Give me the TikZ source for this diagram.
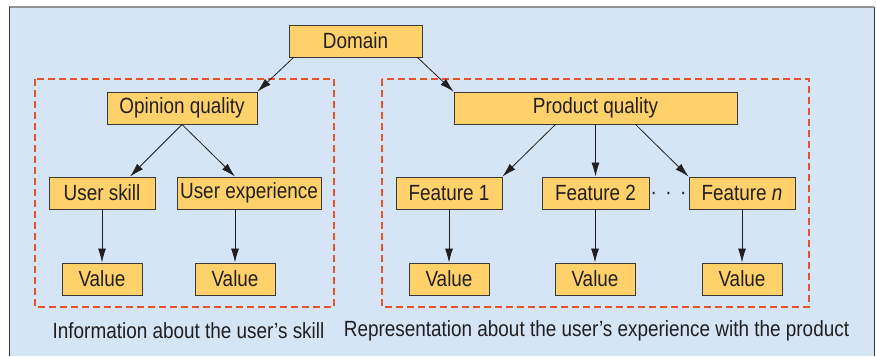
\documentclass[tikz,border=0pt]{standalone}
\usepackage{fontspec}
\setmainfont{Liberation Sans}[FakeStretch=0.86]
\usetikzlibrary{arrows.meta}

\definecolor{panelblue}{HTML}{D5E5F5}
\definecolor{boxfill}{HTML}{FFD16A}
\definecolor{boxline}{HTML}{3A3A3A}
\definecolor{dashred}{HTML}{E8532B}
\definecolor{inkdark}{HTML}{231F20}

\tikzset{
  box/.style={draw=boxline, fill=boxfill, line width=0.9pt, minimum height=32pt,
    inner sep=0pt, text=inkdark, font=\fontsize{22}{25}\selectfont},
  link/.style={draw=inkdark, line width=0.8pt, -{Latex[length=14pt,width=8pt]}},
  group/.style={draw=dashred, line width=2.8pt, dash pattern=on 7pt off 4pt},
  caption/.style={text=inkdark, font=\fontsize{22}{25}\selectfont}
}

\begin{document}
\begin{tikzpicture}[x=1pt,y=-1pt]

\useasboundingbox (0,0) rectangle (877,356);

% Panel
\fill[panelblue] (9,7) rectangle (874,356);
\draw[gray!85, line width=2.5pt] (9,7) -- (874,7);
\draw[boxline, line width=1pt] (9,7) -- (9,356);
\draw[boxline, line width=1pt] (874,7) -- (874,356);

% Dashed groups
\draw[group] (35,79) rectangle (334,307);
\draw[group] (382,79) rectangle (809,307);

% Top levels
\node[box, minimum width=133pt] (dom) at (355.5,41) {Domain};
\node[box, minimum width=150pt] (oq) at (182,108) {Opinion quality};
\node[box, minimum width=283pt] (pq) at (595.5,108) {Product quality};

% Second level
\node[box, minimum width=106pt] (us) at (102,193) {User skill};
\node[box, minimum width=144pt] (ux) at (249,193) {User experience};
\node[box, minimum width=106pt] (f1) at (449,193) {Feature 1};
\node[box, minimum width=107pt] (f2) at (595.5,193) {Feature 2};
\node[box, minimum width=106pt] (fn) at (742,193) {Feature \textit{n}};

% dots between features
\node[text=inkdark, inner sep=0pt, font=\fontsize{22}{25}\selectfont] (dots) at (668.5,196)
  {·\hspace{8.5pt}·\hspace{8.5pt}·};

% Values
\node[box, minimum width=80pt] (v1) at (102,279) {Value};
\node[box, minimum width=80pt] (v2) at (235,279) {Value};
\node[box, minimum width=80pt] (v3) at (449,279) {Value};
\node[box, minimum width=80pt] (v4) at (595,279) {Value};
\node[box, minimum width=80pt] (v5) at (742,279) {Value};

% Arrows from the domain
\draw[link] ([xshift=5pt]dom.south west) -- (oq.north east);
\draw[link] ([xshift=-5pt]dom.south east) -- (pq.north west);

% Opinion quality
\draw[link] (oq.south) -- ([xshift=28pt]us.north);
\draw[link] (oq.south) -- ([xshift=-14pt]ux.north);

% Product quality
\draw[link] ([xshift=-40pt]pq.south) -- (f1.north east);
\draw[link] (pq.south) -- (f2.north);
\draw[link] ([xshift=40pt]pq.south) -- (fn.north west);

% Down to the values
\draw[link] (us.south) -- (v1.north);
\draw[link] (v2.north |- ux.south) -- (v2.north);
\draw[link] (f1.south) -- (v3.north);
\draw[link] (v4.north |- f2.south) -- (v4.north);
\draw[link] (fn.south) -- (v5.north);

% Captions
\node[caption] (capl) at (188.5,331) {Information about the user’s skill};
\node[caption] (capr) at (596.5,331) {Representation about the user’s experience with the product};

\end{tikzpicture}
\end{document}
